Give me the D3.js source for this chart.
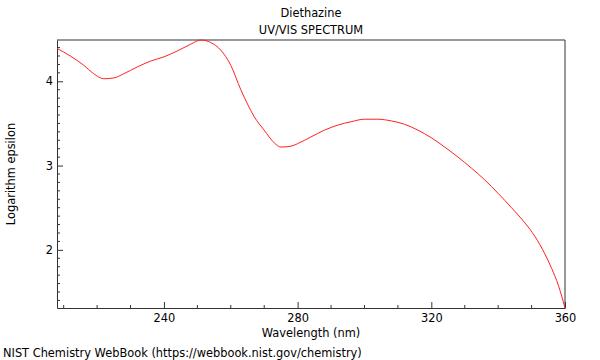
<!DOCTYPE html>
<html><head><meta charset="utf-8">
<script src="https://cdn.jsdelivr.net/npm/d3@7"></script>
<style>body{margin:0;background:#fff}svg{font-family:"DejaVu Sans",sans-serif}</style>
</head><body><svg id="c" width="600" height="360"></svg>
<script>
const title = "Diethazine";
const subtitle = "UV/VIS SPECTRUM";
const xLabel = "Wavelength (nm)";
const yLabel = "Logarithm epsilon";
const footer = "NIST Chemistry WebBook (https://webbook.nist.gov/chemistry)";
const wavelengths = [208, 212, 216, 219, 222, 225, 228, 232, 236, 240, 244, 248, 251, 254, 257, 260, 263, 265, 267, 270, 273, 275, 278, 280, 284, 288, 292, 296, 300, 304, 308, 312, 316, 320, 324, 328, 332, 336, 340, 344, 348, 351, 354, 356, 358, 360];
const logEps = [4.39, 4.30, 4.19, 4.09, 4.03, 4.04, 4.09, 4.17, 4.24, 4.29, 4.36, 4.44, 4.49, 4.46, 4.37, 4.19, 3.90, 3.73, 3.58, 3.42, 3.27, 3.22, 3.23, 3.26, 3.34, 3.42, 3.48, 3.52, 3.55, 3.55, 3.53, 3.49, 3.42, 3.33, 3.22, 3.10, 2.97, 2.83, 2.67, 2.50, 2.32, 2.16, 1.95, 1.78, 1.58, 1.31];
const xTicks = [240, 280, 320, 360];
const yTicks = [2, 3, 4];

const FS = 11.4;
const svg = d3.select("#c");
const L = 57, R = 565, T = 40, B = 308;
const x = d3.scaleLinear().domain([208, 360]).range([L, R]);
const y = d3.scaleLinear().domain([1.31, 4.49]).range([B, T]);

// frame
svg.append("line").attr("x1", L).attr("x2", R).attr("y1", T).attr("y2", T).attr("stroke", "#999").attr("stroke-width", 2);
svg.append("line").attr("x1", R).attr("x2", R).attr("y1", T).attr("y2", B).attr("stroke", "#333").attr("stroke-width", 1);

// minor ticks
const xMinor = d3.range(210, 361, 10).filter(v => !xTicks.includes(v));
const yMinor = d3.range(14, 45).map(v => v / 10).filter(v => !yTicks.includes(v) && v >= 1.31 && v <= 4.49);

const gx = svg.append("g").attr("transform", `translate(0,${B})`);
gx.call(d3.axisBottom(x).tickValues(xTicks).tickSizeInner(-6).tickSizeOuter(0).tickPadding(6).tickFormat(d3.format("d")));
gx.selectAll(".minor").data(xMinor).enter().append("line").attr("x1", d => x(d)).attr("x2", d => x(d)).attr("y1", 0).attr("y2", -3).attr("stroke", "#333");
gx.select(".domain").attr("stroke", "#333");
gx.selectAll(".tick line").attr("stroke", "#333");
gx.selectAll("text").attr("font-size", FS).attr("fill", "#000").attr("font-family", "DejaVu Sans");

const gy = svg.append("g").attr("transform", `translate(${L},0)`);
gy.call(d3.axisLeft(y).tickValues(yTicks).tickSizeInner(-6).tickSizeOuter(0).tickPadding(4).tickFormat(d3.format("d")));
gy.selectAll(".minor").data(yMinor).enter().append("line").attr("y1", d => y(d)).attr("y2", d => y(d)).attr("x1", 0).attr("x2", 3).attr("stroke", "#333");
gy.select(".domain").attr("stroke", "#333");
gy.selectAll(".tick line").attr("stroke", "#333");
gy.selectAll("text").attr("font-size", FS).attr("fill", "#000").attr("font-family", "DejaVu Sans");

// line
const data = wavelengths.map((w, i) => [w, logEps[i]]);
svg.append("path").datum(data)
  .attr("fill", "none").attr("stroke", "#ff2020").attr("stroke-width", 1)
  .attr("d", d3.line().x(d => x(d[0])).y(d => y(d[1])).curve(d3.curveMonotoneX));

// texts
const cx = (L + R) / 2;
svg.append("text").attr("x", cx).attr("y", 17).attr("text-anchor", "middle").attr("font-size", FS).text(title);
svg.append("text").attr("x", cx).attr("y", 34).attr("text-anchor", "middle").attr("font-size", FS).text(subtitle);
svg.append("text").attr("x", cx).attr("y", 337).attr("text-anchor", "middle").attr("font-size", FS).text(xLabel);
svg.append("text").attr("transform", `translate(15,${(T + B) / 2}) rotate(-90)`).attr("text-anchor", "middle").attr("font-size", FS).text(yLabel);
svg.append("text").attr("x", 3).attr("y", 357).attr("font-size", FS).text(footer);
</script></body></html>
